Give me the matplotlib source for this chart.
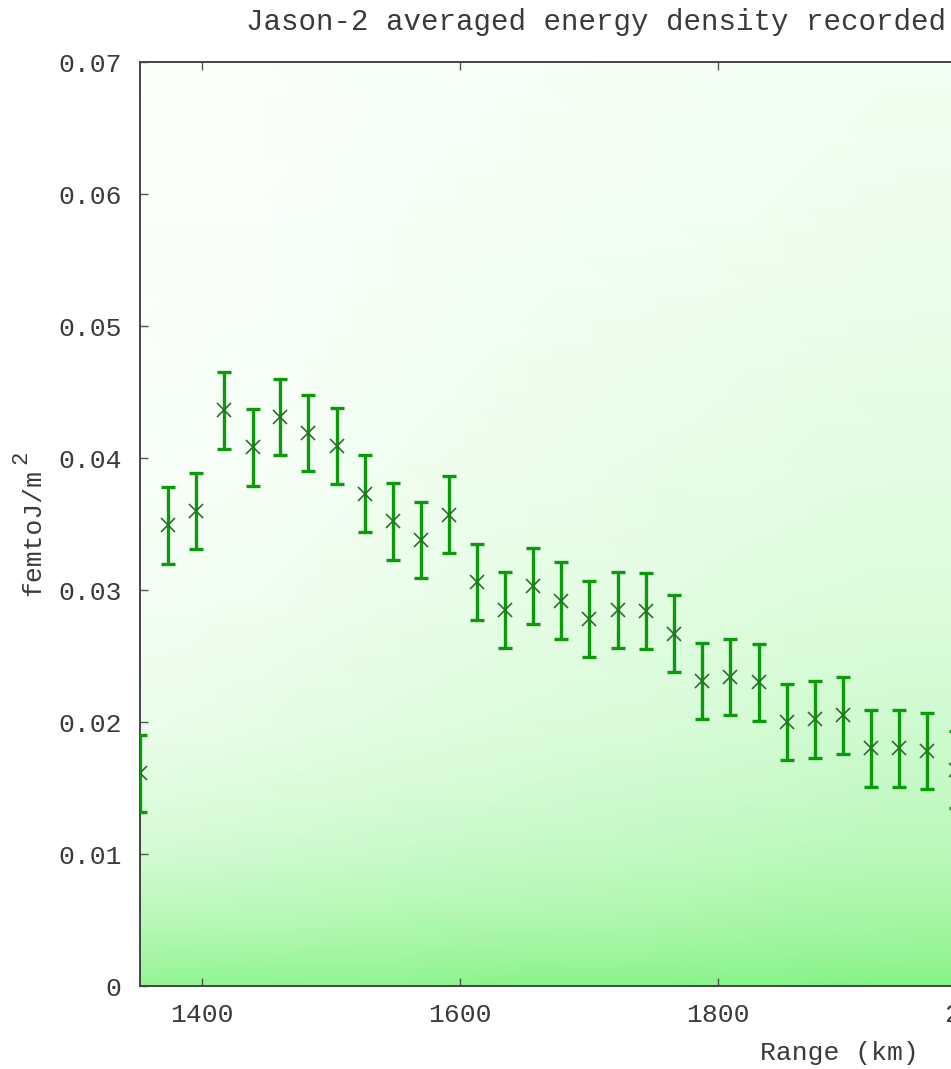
import numpy as np
import matplotlib
matplotlib.use("Agg")
import matplotlib.pyplot as plt
from matplotlib.colors import LinearSegmentedColormap

plt.rcParams['font.family'] = ['Liberation Mono', 'DejaVu Sans Mono']

# ---- data ----
range_km = [1351.7, 1373.4, 1395.3, 1417.3, 1439.3, 1460.7, 1482.4, 1504.4, 1526.1, 1548.1,
            1569.8, 1591.5, 1613.2, 1635.0, 1656.8, 1678.5, 1700.2, 1722.5, 1743.9, 1765.7,
            1787.8, 1809.5, 1831.6, 1853.5, 1875.0, 1896.9, 1918.6, 1940.3, 1962.2, 1984.3]
energy = [0.0161, 0.0349, 0.0360, 0.0436, 0.0408, 0.0431, 0.0419, 0.0409, 0.0373, 0.0352,
          0.0338, 0.0357, 0.0306, 0.0285, 0.0303, 0.0292, 0.0278, 0.0285, 0.0284, 0.0267,
          0.0231, 0.0234, 0.0230, 0.0200, 0.0202, 0.0205, 0.0180, 0.0180, 0.0178, 0.0164]
energy_err = [0.0029, 0.0029, 0.0029, 0.0029, 0.0029, 0.0029, 0.0029, 0.0029, 0.0029, 0.0029,
              0.0029, 0.0029, 0.0029, 0.0029, 0.0029, 0.0029, 0.0029, 0.0029, 0.0029, 0.0029,
              0.0029, 0.0029, 0.0029, 0.0029, 0.0029, 0.0029, 0.0029, 0.0029, 0.0029, 0.0029]

# density of the individual-sample cloud (fraction of area covered), read by eye
cloud_x = [1351.7, 1450, 1550, 1650, 1750, 1850, 1950, 2440]
cloud_y = [0, 0.002, 0.005, 0.01, 0.015, 0.02, 0.03, 0.04, 0.05, 0.06, 0.07]
cloud_cov = [
    [0.62, 0.64, 0.64, 0.67, 0.67, 0.68, 0.70, 0.70],
    [0.52, 0.54, 0.55, 0.58, 0.58, 0.60, 0.62, 0.62],
    [0.40, 0.42, 0.44, 0.45, 0.47, 0.50, 0.52, 0.52],
    [0.25, 0.28, 0.31, 0.33, 0.35, 0.38, 0.40, 0.40],
    [0.17, 0.20, 0.23, 0.25, 0.28, 0.30, 0.33, 0.33],
    [0.11, 0.14, 0.17, 0.20, 0.22, 0.25, 0.27, 0.27],
    [0.06, 0.08, 0.11, 0.14, 0.16, 0.18, 0.20, 0.20],
    [0.04, 0.05, 0.08, 0.10, 0.12, 0.14, 0.16, 0.16],
    [0.03, 0.04, 0.06, 0.08, 0.09, 0.11, 0.12, 0.12],
    [0.03, 0.03, 0.05, 0.06, 0.07, 0.08, 0.09, 0.09],
    [0.02, 0.03, 0.04, 0.05, 0.06, 0.07, 0.08, 0.08],
]

x_ticks = [1400, 1600, 1800, 2000, 2200, 2400]
x_ticklabels = ['1400', '1600', '1800', '2000', '2200', '2400']
y_ticks = [0, 0.01, 0.02, 0.03, 0.04, 0.05, 0.06, 0.07]
y_ticklabels = ['0', '0.01', '0.02', '0.03', '0.04', '0.05', '0.06', '0.07']

title_text = 'Jason-2 averaged energy density recorded'
x_label = 'Range (km)'
y_label = 'femtoJ/m'
y_label_sup = '2'

# ---- figure ----
W, H = 951, 1069
fig = plt.figure(figsize=(W / 100, H / 100), dpi=100)
ax_left, ax_right, ax_top, ax_bot = 139.7, 1540, 62, 986
ax = fig.add_axes([ax_left / W, (H - ax_bot) / H, (ax_right - ax_left) / W, (ax_bot - ax_top) / H])

cmap = LinearSegmentedColormap.from_list('cloud', ['#ffffff', '#50ee50'])
X, Y = np.meshgrid(cloud_x, cloud_y)
ax.pcolormesh(X, Y, np.array(cloud_cov), shading='gouraud', cmap=cmap, vmin=0, vmax=1, zorder=0)

ax.errorbar(range_km, energy, yerr=energy_err, fmt='none', ecolor='#0a9a0a',
            elinewidth=2.4, capsize=4.8, capthick=2.4, zorder=3, clip_on=True)
ax.plot(range_km, energy, linestyle='none', marker='x', markersize=10, mew=1.2,
        color='#2a6e2a', zorder=4)

ax.set_xlim(1351.7, 2437.2)
ax.set_ylim(0, 0.07)
ax.set_xticks(x_ticks)
ax.set_xticklabels(x_ticklabels)
ax.set_yticks(y_ticks)
ax.set_yticklabels(y_ticklabels)

txt_color = '#3a3a3a'
for s in ax.spines.values():
    s.set_color('#444444')
    s.set_linewidth(1.4)
ax.tick_params(axis='both', which='major', direction='in', length=6, width=1.0,
               color='#555555', labelsize=19, labelcolor=txt_color,
               top=True, right=True)
ax.tick_params(axis='y', pad=13)
ax.tick_params(axis='x', pad=12)

ax.set_xlabel(x_label, fontsize=19, color=txt_color, labelpad=10)
fig.text(33 / W, 1 - 532 / H, y_label, rotation=90, ha='center', va='center',
         fontsize=19, color=txt_color)
fig.text(21 / W, 1 - 457 / H, y_label_sup, rotation=90, ha='center', va='center',
         fontsize=16, color=txt_color)
fig.text(246 / W, 1 - 22 / H, title_text, ha='left', va='center',
         fontsize=21, color=txt_color)

fig.savefig('out.png', dpi=100)
